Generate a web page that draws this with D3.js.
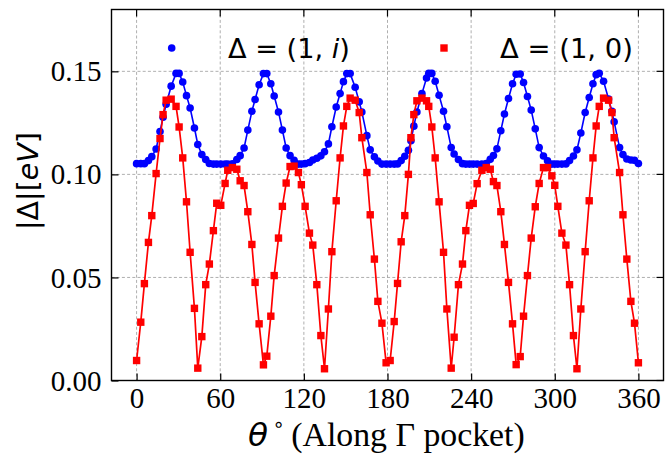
<!DOCTYPE html>
<html>
<head>
<meta charset="utf-8">
<script src="https://cdn.jsdelivr.net/npm/d3@7"></script>
<style>
  html, body { margin: 0; padding: 0; background: #fff; }
  .grid line { stroke: #9a9a9a; stroke-width: 0.8; stroke-dasharray: 3,2.2; }
</style>
</head>
<body>
<div id="chart"></div>
<script>
// angle along the Gamma pocket (degrees)
const theta = [
  0, 3.0, 5.6, 8.5, 10.9, 14.0, 16.8, 19.0, 21.2, 24.8, 28.3, 30.5, 33.1, 35.8, 38.4, 41.5, 43.9,
  46.8, 49.6, 52.2, 55.1, 57.5, 60.4, 63.5, 65.4, 68.7, 71.9, 74.3, 77.1, 79.8, 82.7, 85.0, 87.9,
  91.0, 93.4, 96.3, 98.7, 101.8, 104.6, 107.3, 110.1, 113.0, 116.1, 118.2, 120.9, 124.0, 126.4, 129.3, 132.2, 134.8,
  137.6, 140.1, 143.2, 146.0, 148.4, 150.8, 153.2, 156.8, 159.7, 161.6, 165.2, 167.6, 170.6, 173.1, 176.0, 179.0,
  181.9, 184.8, 187.2, 189.8, 192.4, 195.0, 196.8, 198.9, 201.1, 204.7, 208.0, 209.6, 211.8, 214.2, 217.0, 220.2, 222.6,
  225.7, 227.8, 230.9, 233.8, 236.2, 238.8, 241.5, 244.3, 247.7, 250.8, 253.7, 256.0, 258.5, 261.3, 263.9, 266.8, 269.7,
  272.3, 275.2, 277.6, 280.4, 283.1, 286.0, 288.8, 291.9, 294.8, 297.9, 300.0, 302.2, 305.1, 308.0, 310.6, 313.4,
  315.9, 318.7, 321.8, 324.7, 327.4, 329.7, 331.9, 335.0, 338.6, 341.0, 342.6, 346.5, 348.9, 351.7, 354.6, 357.2, 360.0
];

// |Delta| for Delta = (1, i)
const gapComplex = [
  0.1052, 0.1052, 0.1052, 0.1067, 0.1086, 0.1123, 0.1208, 0.1277, 0.1340, 0.1428, 0.1490, 0.1490, 0.1448, 0.1382, 0.1322, 0.1225, 0.1145,
  0.1096, 0.1072, 0.1053, 0.1050, 0.1050, 0.1050, 0.1050, 0.1050, 0.1051, 0.1072, 0.1091, 0.1128, 0.1215, 0.1306, 0.1363, 0.1435,
  0.1489, 0.1489, 0.1440, 0.1380, 0.1303, 0.1215, 0.1128, 0.1091, 0.1068, 0.1050, 0.1050, 0.1052, 0.1058, 0.1070, 0.1078, 0.1090, 0.1110,
  0.1148, 0.1231, 0.1327, 0.1392, 0.1450, 0.1489, 0.1489, 0.1423, 0.1352, 0.1303, 0.1188, 0.1119, 0.1085, 0.1065, 0.1050, 0.1050,
  0.1050, 0.1050, 0.1051, 0.1067, 0.1088, 0.1117, 0.1163, 0.1234, 0.1303, 0.1392, 0.1468, 0.1490, 0.1490, 0.1452, 0.1384, 0.1306, 0.1231,
  0.1130, 0.1099, 0.1072, 0.1052, 0.1050, 0.1050, 0.1050, 0.1050, 0.1050, 0.1052, 0.1073, 0.1092, 0.1124, 0.1212, 0.1293, 0.1368, 0.1440,
  0.1486, 0.1487, 0.1446, 0.1378, 0.1312, 0.1221, 0.1130, 0.1089, 0.1066, 0.1050, 0.1050, 0.1050, 0.1050, 0.1051, 0.1067, 0.1089,
  0.1119, 0.1201, 0.1300, 0.1373, 0.1440, 0.1484, 0.1491, 0.1452, 0.1366, 0.1306, 0.1255, 0.1130, 0.1096, 0.1075, 0.1070, 0.1068, 0.1053
];

// |Delta| for Delta = (1, 0)
const gapReal = [
  0.0097, 0.0283, 0.0470, 0.0670, 0.0800, 0.1004, 0.1174, 0.1290, 0.1360, 0.1365, 0.1330, 0.1230, 0.1080, 0.0867, 0.0622, 0.0350, 0.0060,
  0.0213, 0.0465, 0.0565, 0.0727, 0.0860, 0.0850, 0.0956, 0.1020, 0.1033, 0.1025, 0.0969, 0.0946, 0.0819, 0.0660, 0.0476, 0.0275,
  0.0076, 0.0118, 0.0312, 0.0509, 0.0691, 0.0845, 0.0958, 0.1038, 0.1040, 0.1009, 0.0950, 0.0845, 0.0715, 0.0657, 0.0465, 0.0218, 0.0057,
  0.0347, 0.0625, 0.0872, 0.1080, 0.1235, 0.1330, 0.1370, 0.1360, 0.1300, 0.1178, 0.1009, 0.0804, 0.0589, 0.0384, 0.0278, 0.0086,
  0.0097, 0.0286, 0.0471, 0.0673, 0.0800, 0.1000, 0.1178, 0.1290, 0.1357, 0.1370, 0.1357, 0.1330, 0.1230, 0.1080, 0.0867, 0.0622, 0.0347,
  0.0060, 0.0210, 0.0465, 0.0565, 0.0727, 0.0850, 0.0859, 0.0955, 0.1020, 0.1033, 0.1025, 0.0965, 0.0946, 0.0819, 0.0660, 0.0476, 0.0275,
  0.0077, 0.0116, 0.0312, 0.0509, 0.0691, 0.0843, 0.0956, 0.1033, 0.1033, 0.0993, 0.0947, 0.0845, 0.0715, 0.0657, 0.0465, 0.0218,
  0.0057, 0.0347, 0.0625, 0.0872, 0.1080, 0.1235, 0.1330, 0.1370, 0.1360, 0.1300, 0.1178, 0.1009, 0.0804, 0.0589, 0.0384, 0.0278, 0.0086
];

const xTicks = [0, 60, 120, 180, 240, 300, 360];
const yTicks = [0.00, 0.05, 0.10, 0.15];
const xDomain = [-18, 378];
const yDomain = [0, 0.18];

const width = 665, height = 457;
const margin = { top: 9.5, right: 1.5, bottom: 76.5, left: 111.5 };
const innerWidth = width - margin.left - margin.right;
const innerHeight = height - margin.top - margin.bottom;

const serif = '"Liberation Serif", "Times New Roman", serif';
const mathFont = '"DejaVu Sans", sans-serif';

// scale a text's font so its rendered width matches the width seen in the picture
function fitWidth(textSel, target) {
  const w = textSel.node().getComputedTextLength();
  if (!w) return;
  const k = target / w;
  textSel.selectAll('tspan').each(function () {
    const t = d3.select(this);
    t.style('font-size', (parseFloat(t.style('font-size')) * k) + 'px');
    ['dx', 'dy'].forEach(a => {
      const v = t.attr(a);
      if (v !== null) t.attr(a, parseFloat(v) * k);
    });
  });
}

const svg = d3.select('#chart').append('svg')
  .attr('width', width)
  .attr('height', height);

const g = svg.append('g')
  .attr('transform', `translate(${margin.left},${margin.top})`);

const x = d3.scaleLinear().domain(xDomain).range([0, innerWidth]);
const y = d3.scaleLinear().domain(yDomain).range([innerHeight, 0]);

// dashed grid
const grid = g.append('g').attr('class', 'grid');
grid.selectAll('.gx').data(xTicks).join('line')
  .attr('x1', d => x(d)).attr('x2', d => x(d))
  .attr('y1', 0).attr('y2', innerHeight);
grid.selectAll('.gy').data(yTicks).join('line')
  .attr('x1', 0).attr('x2', innerWidth)
  .attr('y1', d => y(d)).attr('y2', d => y(d));

// labelled axes, inward ticks
const xAxis = g.append('g')
  .attr('transform', `translate(0,${innerHeight})`)
  .call(d3.axisBottom(x).tickValues(xTicks).tickSize(-7).tickPadding(7).tickFormat(d3.format('d')));
const yAxis = g.append('g')
  .call(d3.axisLeft(y).tickValues(yTicks).tickSize(-7).tickPadding(10).tickFormat(d3.format('.2f')));
[xAxis, yAxis].forEach(a => {
  a.attr('font-family', null).attr('font-size', null);
  a.selectAll('text')
    .style('font-family', serif)
    .style('font-size', '29px')
    .style('fill', '#000');
  a.selectAll('line').attr('stroke', '#000').attr('stroke-width', 1.2);
});
yAxis.selectAll('text').attr('dy', '0.33em');

// tick marks only on top and right
const tickMarks = g.append('g').attr('stroke', '#000').attr('stroke-width', 1.2);
tickMarks.selectAll('.tt').data(xTicks).join('line')
  .attr('x1', d => x(d)).attr('x2', d => x(d)).attr('y1', 0).attr('y2', 7);
tickMarks.selectAll('.tr').data(yTicks).join('line')
  .attr('x1', innerWidth - 7).attr('x2', innerWidth).attr('y1', d => y(d)).attr('y2', d => y(d));

g.selectAll('.domain').remove();

const pts = (vals) => theta.map((t, i) => ({ t, v: vals[i] }));
const line = d3.line().x(d => x(d.t)).y(d => y(d.v));

const blue = '#0000ff', red = '#ff0000';

// Delta = (1, i)
g.append('path')
  .datum(pts(gapComplex))
  .attr('d', line)
  .attr('fill', 'none')
  .attr('stroke', blue)
  .attr('stroke-width', 1.6);
g.append('g').selectAll('circle')
  .data(pts(gapComplex))
  .join('circle')
  .attr('cx', d => x(d.t))
  .attr('cy', d => y(d.v))
  .attr('r', 3.8)
  .attr('fill', blue);

// Delta = (1, 0)
const sq = 7.4;
g.append('path')
  .datum(pts(gapReal))
  .attr('d', line)
  .attr('fill', 'none')
  .attr('stroke', red)
  .attr('stroke-width', 1.7);
g.append('g').selectAll('rect')
  .data(pts(gapReal))
  .join('rect')
  .attr('x', d => x(d.t) - sq / 2)
  .attr('y', d => y(d.v) - sq / 2)
  .attr('width', sq)
  .attr('height', sq)
  .attr('fill', red);

// frame
g.append('rect')
  .attr('width', innerWidth)
  .attr('height', innerHeight)
  .attr('fill', 'none')
  .attr('stroke', '#000')
  .attr('stroke-width', 1.4);

// legend
const legend = svg.append('g');
legend.append('circle').attr('cx', 171.7).attr('cy', 48).attr('r', 3.8).attr('fill', blue);
const l1 = legend.append('text')
  .attr('x', 228).attr('y', 58)
  .style('font-family', mathFont);
l1.append('tspan').style('font-size', '28px').text('\u0394 = (1, ');
l1.append('tspan').style('font-size', '28px').style('font-style', 'italic').text('i');
l1.append('tspan').style('font-size', '28px').text(')');
fitWidth(l1, 122);

legend.append('rect').attr('x', 444 - sq / 2).attr('y', 48 - sq / 2)
  .attr('width', sq).attr('height', sq).attr('fill', red);
const l2 = legend.append('text')
  .attr('x', 500).attr('y', 58)
  .style('font-family', mathFont);
l2.append('tspan').style('font-size', '28px').text('\u0394 = (1, 0)');
fitWidth(l2, 133);

// axis labels
const xl = svg.append('text')
  .attr('x', 248).attr('y', 446);
xl.append('tspan')
  .style('font-family', mathFont).style('font-size', '30px').style('font-style', 'italic')
  .text('\u03b8');
xl.append('tspan')
  .attr('dx', 4).attr('dy', -14)
  .style('font-family', mathFont).style('font-size', '18px')
  .text('\u2218');
xl.append('tspan')
  .attr('dx', 6).attr('dy', 14)
  .style('font-family', serif).style('font-size', '31px')
  .text('(Along \u0393 pocket)');
fitWidth(xl, 266);

const yl = svg.append('text')
  .attr('transform', 'translate(38,181) rotate(-90)')
  .attr('text-anchor', 'middle')
  .style('font-family', mathFont);
yl.append('tspan').style('font-size', '30px').text('|\u0394|[');
yl.append('tspan').style('font-size', '30px').style('font-style', 'italic').text('eV');
yl.append('tspan').style('font-size', '30px').text(']');
fitWidth(yl, 98);
</script>
</body>
</html>
